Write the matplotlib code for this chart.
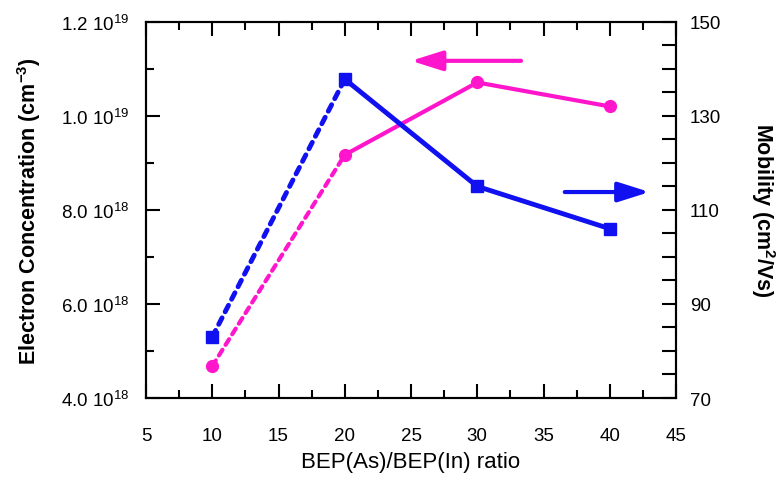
import matplotlib
matplotlib.use('Agg')
import matplotlib.pyplot as plt
from matplotlib.ticker import MultipleLocator, FixedLocator, FuncFormatter

plt.rcParams['font.family'] = ['Liberation Sans', 'DejaVu Sans']
plt.rcParams['mathtext.fontset'] = 'custom'
plt.rcParams['mathtext.rm'] = 'Liberation Sans'
plt.rcParams['mathtext.bf'] = 'Liberation Sans:bold'

# BEP ratio and measured values
ratio = [10, 20, 30, 40]
concentration = [4.68e18, 9.17e18, 1.071e19, 1.02e19]   # cm^-3
mobility = [83, 137.8, 115, 106]                        # cm^2/Vs
mobility_ticks = [70, 90, 110, 130, 150]

pink = '#ff16cc'
blue = '#1010f0'

fig = plt.figure(figsize=(7.8, 4.85), dpi=100)
ax = fig.add_axes([0.1872, 0.1773, 0.6795, 0.7757])
ax2 = ax.twinx()

# first segment dashed, the rest solid
ax.plot(ratio[:2], concentration[:2], color=pink, lw=3, ls=(0, (1.6, 1.4)),
        dash_capstyle='round')
ax.plot(ratio[1:], concentration[1:], color=pink, lw=3)
ax.plot(ratio, concentration, ls='none', marker='o', ms=8.5, color=pink)

ax2.plot(ratio[:2], mobility[:2], color=blue, lw=3.5, ls=(0, (1.5, 1.4)),
         dash_capstyle='round')
ax2.plot(ratio[1:], mobility[1:], color=blue, lw=3.5)
ax2.plot(ratio, mobility, ls='none', marker='s', ms=8, color=blue)

# arrows pointing to each series' axis
head = '-|>,head_length=1.9,head_width=0.6'
ax.annotate('', xy=(25.0, 1.117e19), xytext=(33.3, 1.117e19),
            arrowprops=dict(arrowstyle=head, color=pink, lw=3,
                            shrinkA=0, shrinkB=0))
ax2.annotate('', xy=(43.0, 113.8), xytext=(36.6, 113.8),
             arrowprops=dict(arrowstyle=head, color=blue, lw=3,
                             shrinkA=0, shrinkB=0))

ax.set_xlim(5, 45)
ax.set_ylim(4.0e18, 1.2e19)
ax2.set_ylim(70, 150)

ax.xaxis.set_major_locator(MultipleLocator(5))
ax.xaxis.set_minor_locator(MultipleLocator(2.5))
ax.yaxis.set_major_locator(MultipleLocator(2e18))
ax.yaxis.set_minor_locator(MultipleLocator(1e18))
ax2.yaxis.set_major_locator(FixedLocator(mobility_ticks))
ax2.yaxis.set_minor_locator(MultipleLocator(5))


def sci_label(v, pos):
    exp = 19 if v >= 1e19 - 1 else 18
    return '%.1f 10$^{%d}$' % (v / 10 ** exp, exp)


ax.yaxis.set_major_formatter(FuncFormatter(sci_label))

ax.tick_params(axis='x', which='both', direction='in', top=True,
               labelsize=13.5, pad=21, width=1.5)
ax.tick_params(axis='x', which='major', length=10)
ax.tick_params(axis='x', which='minor', length=6)
ax.tick_params(axis='y', which='both', direction='in', labelsize=13.5,
               pad=12, width=1.5)
ax.tick_params(axis='y', which='major', length=10)
ax.tick_params(axis='y', which='minor', length=6)
ax2.tick_params(axis='y', which='both', direction='in', length=10,
                width=1.5, labelsize=13.5, pad=10)

for a in (ax, ax2):
    for s in a.spines.values():
        s.set_linewidth(1.5)

ax.set_xlabel('BEP(As)/BEP(In) ratio', fontsize=16, labelpad=5)
ax.set_ylabel(r'Electron Concentration (cm$^{\mathbf{-3}}$)', fontsize=15.5,
              fontweight='bold', labelpad=13)
ax2.set_ylabel(r'Mobility (cm$^{\mathbf{2}}$/Vs)', fontsize=15.5,
               fontweight='bold', rotation=270, labelpad=40)

fig.savefig('out.png', dpi=100)
